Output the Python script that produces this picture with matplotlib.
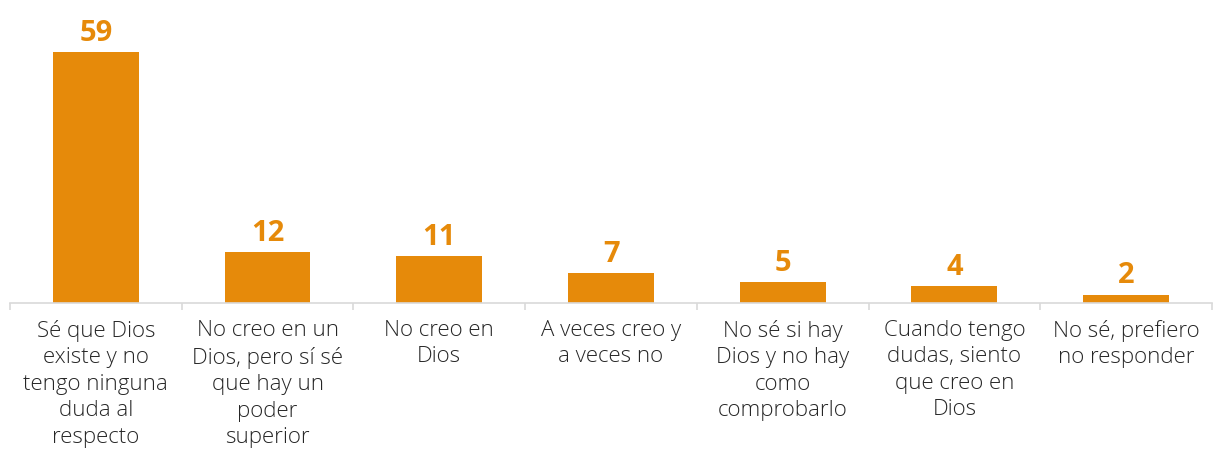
import matplotlib
import matplotlib.pyplot as plt

matplotlib.use('Agg')

# Datos de la encuesta
categorias = [
    'Sé que Dios\nexiste y no\ntengo ninguna\nduda al\nrespecto',
    'No creo en un\nDios, pero sí sé\nque hay un\npoder\nsuperior',
    'No creo en\nDios',
    'A veces creo y\na veces no',
    'No sé si hay\nDios y no hay\ncomo\ncomprobarlo',
    'Cuando tengo\ndudas, siento\nque creo en\nDios',
    'No sé, prefiero\nno responder',
]
valores = [59, 12, 11, 7, 5, 4, 2]

naranja = '#E68A0A'
gris = '#D9D9D9'

fig = plt.figure(figsize=(12.13, 4.51), dpi=100)
ax = fig.add_axes([10 / 1213, 1 - 303 / 451, 1202 / 1213, 276 / 451])

x = range(len(valores))
ax.bar(x, valores, width=0.5, color=naranja)

for xi, v in zip(x, valores):
    ax.annotate(str(v), (xi, v), xytext=(0, 3), textcoords='offset points',
                ha='center', va='bottom', fontsize=21, fontweight='bold',
                color=naranja, family='Open Sans')

ax.set_xlim(-0.5, len(valores) - 0.5)
ax.set_ylim(0, 65)

for s in ['top', 'right', 'left']:
    ax.spines[s].set_visible(False)
ax.spines['bottom'].set_color(gris)
ax.spines['bottom'].set_linewidth(1.2)

ax.set_yticks([])
# marcas en los limites de cada categoria
ax.set_xticks([i - 0.5 for i in range(len(valores) + 1)], minor=True)
ax.tick_params(axis='x', which='minor', length=5, color=gris, width=1.2)
ax.set_xticks(list(x))
ax.set_xticklabels(categorias, fontsize=16, color='#262626', fontweight='light',
                   family='Open Sans', linespacing=1.35, va='top')
ax.tick_params(axis='x', which='major', length=0, pad=12)

plt.savefig('out.png', dpi=100)
plt.close()
